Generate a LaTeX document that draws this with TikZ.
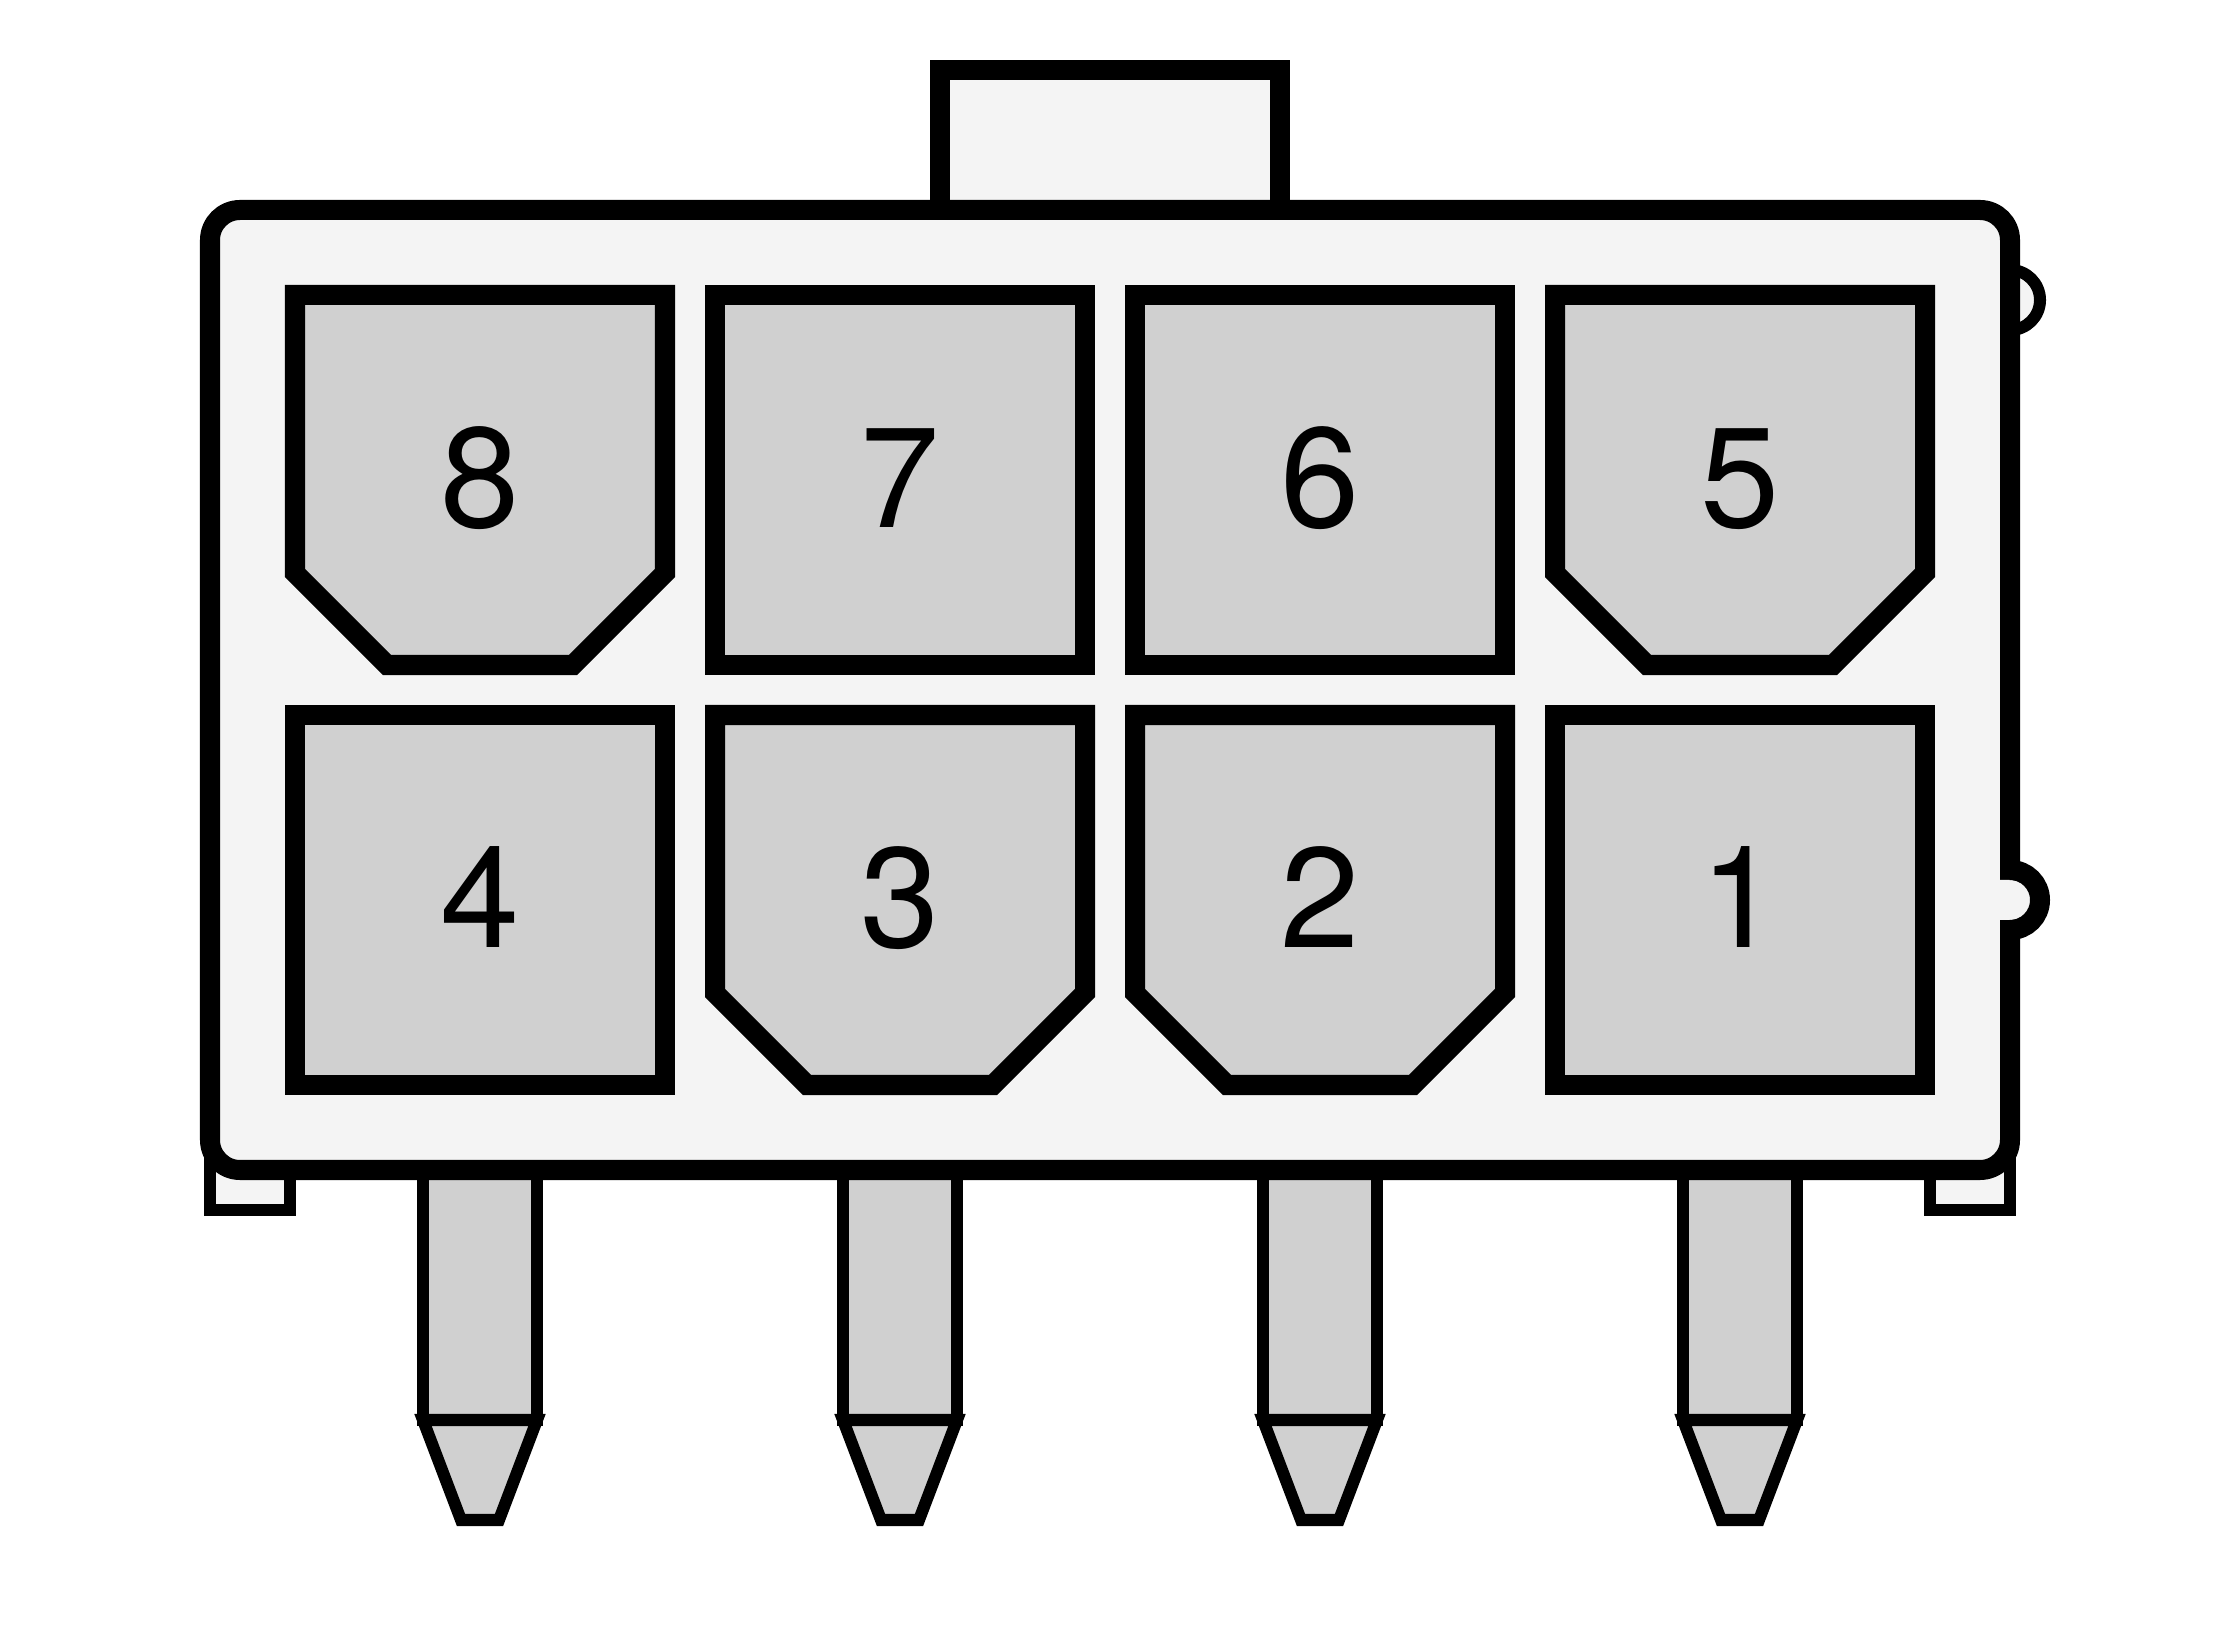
\documentclass[tikz,border=0pt]{standalone}
\usepackage{fontspec}
\setmainfont{TeX Gyre Heros}
\usepackage{xcolor}
\usepackage{tikz}
\definecolor{housing}{HTML}{F4F4F4}
\definecolor{metal}{HTML}{D0D0D0}
\tikzset{
    thickline/.style={draw=black, line width=0.2cm},
    thinline/.style={draw=black, line width=0.12cm},
    pinlabel/.style={font=\fontsize{40.5}{42}\selectfont, anchor=base, inner sep=0pt}
}

\begin{document}
\begin{tikzpicture}[x=0.01cm, y=-0.01cm]
    \useasboundingbox (0,0) rectangle (2220,1625);

    % Latch bump, feet and top tab (behind the housing)
    \filldraw[thinline, fill=housing] (2010,300) circle (0.3cm);
    \foreach \x in {210,1930} {
        \filldraw[thinline, fill=housing] (\x,1150) rectangle (\x+80,1210);
    }
    \filldraw[thickline, fill=housing] (940,70) rectangle (1280,230);

    % Solder pins
    \foreach \x in {480,900,1320,1740} {
        \filldraw[thinline, fill=metal] (\x-57,1150) rectangle (\x+57,1420);
        \filldraw[thinline, fill=metal] (\x-57,1420) -- (\x+57,1420) -- (\x+19,1520) -- (\x-19,1520) -- cycle;
    }

    % Housing
    \filldraw[thickline, fill=housing, rounded corners=0.3cm] (210,210) rectangle (2010,1170);

    % Notch on the right side
    \fill[housing] (1995,880) -- (2010,880) arc[start angle=-90, end angle=90, radius=20] -- (1995,920) -- cycle;
    \draw[thickline] (2010,870) arc[start angle=-90, end angle=90, radius=30];

    % Square cavities
    \foreach \x/\y in {715/295, 1135/295, 295/715, 1555/715} {
        \filldraw[thickline, fill=metal] (\x,\y) rectangle (\x+370,\y+370);
    }
    % Cavities with chamfered corners
    \foreach \x/\y in {295/295, 1555/295, 715/715, 1135/715} {
        \filldraw[thickline, fill=metal] (\x,\y) -- (\x+370,\y) -- (\x+370,\y+278) -- (\x+278,\y+370) -- (\x+92,\y+370) -- (\x,\y+278) -- cycle;
    }

    % Pin numbers
    \foreach \x/\y/\n in {480/528/8, 900/528/7, 1320/528/6, 1740/528/5, 480/948/4, 900/948/3, 1320/948/2, 1740/948/1} {
        \node[pinlabel] (pin\n) at (\x,\y) {\n};
    }
\end{tikzpicture}
\end{document}
